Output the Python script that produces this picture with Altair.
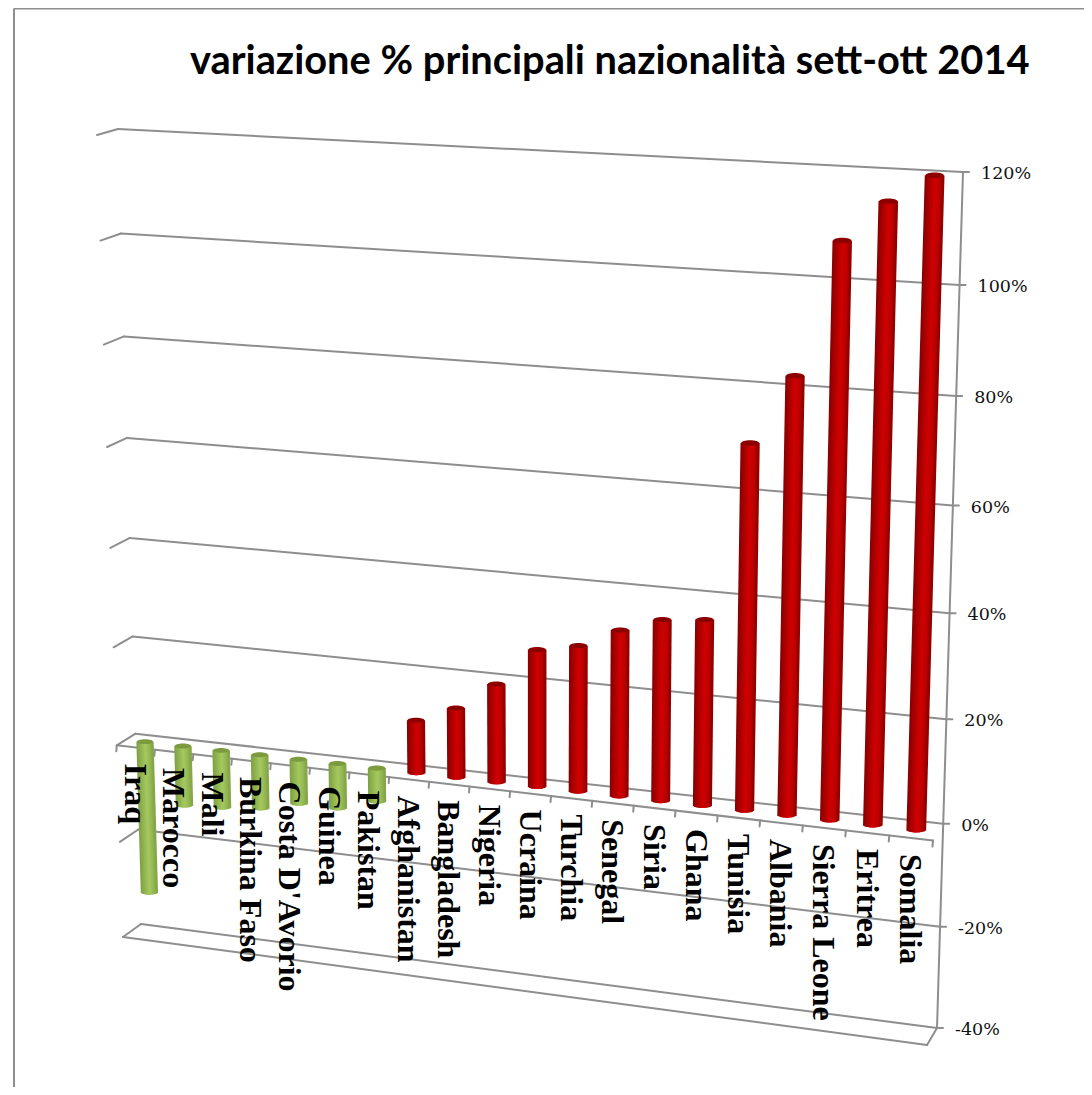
import numpy as np
import pandas as pd
import altair as alt

CATEGORIES = ["Iraq", "Marocco", "Mali", "Burkina Faso", "Costa D'Avorio", "Guinea", "Pakistan",
              "Afghanistan", "Bangladesh", "Nigeria", "Ucraina", "Turchia", "Senegal", "Siria",
              "Ghana", "Tunisia", "Albania", "Sierra Leone", "Eritrea", "Somalia"]
VALUES = [-31.4, -12.2, -11.7, -10.9, -9, -9, -6.7,
          10.5, 13.8, 19.4, 27, 28.6, 32.4, 35.2,
          36, 70, 83, 108, 115.5, 120.5]
TICKS = [120, 100, 80, 60, 40, 20, 0, -20, -40]
TITLE = "variazione % principali nazionalità sett-ott 2014"

VMAX, VMIN = 120, -40
GRID = "#8e8e8e"
RED_STOPS = [(-1, "#860000"), (-0.55, "#a60000"), (0.1, "#d00000"), (0.65, "#bb0000"), (1, "#8a0000")]
GREEN_STOPS = [(-1, "#7f9f45"), (-0.5, "#8fb24f"), (0.1, "#a6c961"), (0.65, "#93b652"), (1, "#82a347")]
RED_TOP, GREEN_TOP = "#8c0000", "#7c9a3e"
N_STRIPS = 15


def homography(corners):
    """corners: {(u, v): (px, py)}; u along the categories, v on the value axis."""
    a, b = [], []
    for (u, v), (x, y) in corners.items():
        a.append([u, v, 1, 0, 0, 0, -u * x, -v * x]); b.append(x)
        a.append([0, 0, 0, u, v, 1, -u * y, -v * y]); b.append(y)
    h = np.append(np.linalg.solve(np.array(a, float), np.array(b, float)), 1).reshape(3, 3)

    def project(u, v):
        p = h @ np.array([u, v, 1.0])
        return float(p[0] / p[2]), float(p[1] / p[2])
    return project


# camera: where the corners of the back wall, the front plane and the mid plane (bars) land
back = homography({(0, VMAX): (118, 129), (0, VMIN): (141, 924), (1, VMAX): (963, 172), (1, VMIN): (937, 1028)})
front = homography({(0, VMAX): (97, 135), (0, VMIN): (123, 937), (1, VMAX): (952, 187), (1, VMIN): (927, 1045)})
mid = homography({(0, VMAX): (107.5, 132), (0, VMIN): (132, 930.5), (1, VMAX): (957.5, 179.5), (1, VMIN): (932, 1036.5)})


def shade(f, stops):
    for (f0, c0), (f1, c1) in zip(stops, stops[1:]):
        if f <= f1:
            t = (f - f0) / (f1 - f0)
            rgb0 = [int(c0[i:i + 2], 16) for i in (1, 3, 5)]
            rgb1 = [int(c1[i:i + 2], 16) for i in (1, 3, 5)]
            return "#%02x%02x%02x" % tuple(round(p + (q - p) * t) for p, q in zip(rgb0, rgb1))
    return stops[-1][1]


segments = []


def seg(p, q):
    segments.append({"x": p[0], "y": p[1], "x2": q[0], "y2": q[1]})


for t in TICKS:
    seg(back(0, t), back(1, t))           # back wall gridline
    seg(front(0, t), back(0, t))          # left side wall
    r = back(1, t)
    seg(r, (r[0] + 6, r[1]))              # value tick
seg(back(1, VMAX), back(1, VMIN))         # value axis
seg(front(0, 0), front(1, 0))             # floor front edge
seg(front(0, VMIN), front(1, VMIN))       # lower box
seg(front(1, VMIN), back(1, VMIN))
for k in range(21):                       # category ticks
    p = front(k / 20, 0)
    seg(p, (p[0] - 0.5, p[1] + 6))
lines = pd.DataFrame(segments)

strips, caps, labels = [], [], []
for i, (name, val) in enumerate(zip(CATEGORIES, VALUES)):
    u = (i + 0.5) / 20
    hw = 8 + 1.3 * u
    hi, lo = max(val, 0), min(val, 0)
    tx, ty = mid(u, hi)
    bx, by = mid(u, lo)
    stops = RED_STOPS if val > 0 else GREEN_STOPS
    for k in range(N_STRIPS):
        f = (2 * k + 1) / N_STRIPS - 1
        curve = 0.3 * hw * np.sqrt(1 - f * f)
        strips.append({"x": tx + f * hw, "y": ty, "x2": bx + f * hw, "y2": by + curve,
                       "c": shade(f, stops), "w": 2 * hw / N_STRIPS + 1.2})
    caps.append({"x": tx, "y": ty, "c": RED_TOP if val > 0 else GREEN_TOP, "s": (2 * hw) ** 2})
    fx, fy = front(u, 0)
    labels.append({"x": fx - 1, "y": fy + 16, "t": name})
strips = pd.DataFrame(strips)
caps = pd.DataFrame(caps)
labels = pd.DataFrame(labels)
ticklabels = pd.DataFrame([{"x": back(1, t)[0] + 18, "y": back(1, t)[1] + 2, "t": f"{t}%"} for t in TICKS])
title = pd.DataFrame([{"x": 190, "y": 62, "t": TITLE}])
frame = pd.DataFrame([{"x": 14, "y": 8.5, "x2": 14, "y2": 1087}, {"x": 14, "y": 8.5, "x2": 1084, "y2": 8.5}])

X = alt.X("x:Q", scale=alt.Scale(domain=[8, 1084]), axis=None)
Y = alt.Y("y:Q", scale=alt.Scale(domain=[1087, 8]), axis=None)
rule_enc = dict(x=X, y=Y, x2="x2:Q", y2="y2:Q")

frame_layer = alt.Chart(frame).mark_rule(stroke=GRID, strokeWidth=2).encode(**rule_enc)
line_layer = alt.Chart(lines).mark_rule(stroke=GRID, strokeWidth=2, strokeCap="round").encode(**rule_enc)
strip_layer = alt.Chart(strips).mark_rule().encode(
    **rule_enc,
    stroke=alt.Color("c:N", scale=None),
    strokeWidth=alt.StrokeWidth("w:Q", scale=None),
)
cap_layer = alt.Chart(caps).mark_point(
    shape="M-1,0A1,0.3,0,1,1,1,0A1,0.3,0,1,1,-1,0Z", filled=True, opacity=1, strokeWidth=0
).encode(x=X, y=Y, fill=alt.Fill("c:N", scale=None), size=alt.Size("s:Q", scale=None))
label_layer = alt.Chart(labels).mark_text(
    angle=90, align="left", baseline="middle", font="Liberation Serif", fontWeight="bold", fontSize=32, color="black"
).encode(x=X, y=Y, text="t:N")
tick_layer = alt.Chart(ticklabels).mark_text(
    align="left", baseline="middle", font="DejaVu Serif", fontSize=17.5, color="#111111"
).encode(x=X, y=Y, text="t:N")
title_layer = alt.Chart(title).mark_text(
    align="left", baseline="middle", font="Lato", fontWeight="bold", fontSize=39.8, color="black"
).encode(x=X, y=Y, text="t:N")

chart = alt.layer(frame_layer, line_layer, strip_layer, cap_layer, label_layer, tick_layer, title_layer).properties(
    width=1076, height=1079, padding=0, autosize=alt.AutoSizeParams(type="none")
).configure_view(stroke=None)

chart.save("out.html", embed_options={"renderer": "svg", "actions": False})
